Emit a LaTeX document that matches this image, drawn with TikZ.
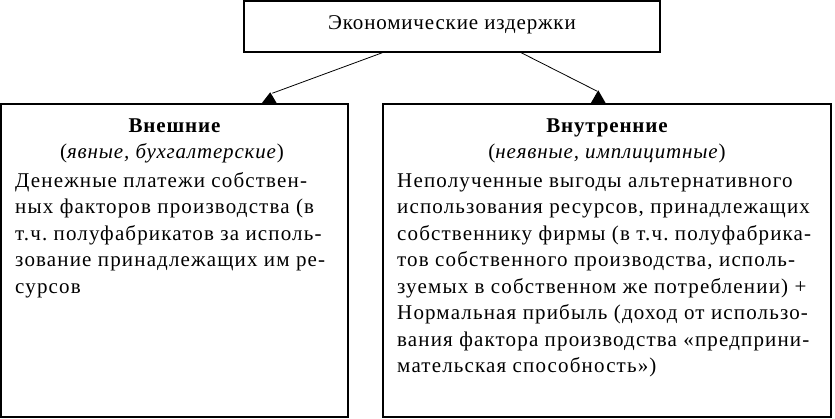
\documentclass[tikz,border=0pt]{standalone}
\usepackage{fontspec}
\setmainfont{Liberation Serif}[LetterSpace=4]
\newfontfamily\bodyfont{Liberation Serif}[LetterSpace=5.5]
\frenchspacing
\begin{document}
\begin{tikzpicture}[x=1pt,y=-1pt,
  box/.style={draw,line width=1.5pt,inner sep=0pt},
  txt/.style={inner sep=0pt,font=\fontsize{21}{25}\selectfont},
  ln/.style={inner sep=0pt,font=\fontsize{21}{25}\bodyfont\frenchspacing,anchor=base west},
  ttl/.style={txt,anchor=base},
  conn/.style={line width=0.8pt},
  tipfill/.style={fill=black}]
\useasboundingbox[fill=white] (0,0) rectangle (835,418);
% boxes
\node[box,minimum width=416pt,minimum height=51pt] (top) at (452,26.5) {};
\node[box,minimum width=347pt,minimum height=313pt] (left) at (174.5,260.5) {};
\node[box,minimum width=448pt,minimum height=313pt] (right) at (607,260.5) {};
% connectors
\path (top.south west) ++(139,0) coordinate (s1);
\path (top.south west) ++(278,0) coordinate (s2);
\path (left.north west) ++(272,-10) coordinate (e1);
\path (right.north west) ++(215,-12) coordinate (e2);
\draw[conn] (s1) -- (e1);
\draw[conn] (s2) -- (e2);
\fill[tipfill] (left.north west) ++(270,-11) -- ++(-8.5,11) -- ++(15,0) -- cycle;
\fill[tipfill] (right.north west) ++(216,-13) -- ++(-7.5,13) -- ++(15,0) -- cycle;
% texts
\node[ttl] (ttop) at (452,29) {Экономические издержки};
\node[ttl] (tl1) at (174.5,132) {\bfseries Внешние};
\node[ttl] (tl2) at (172,158) {(\textit{явные, бухгалтерские})};
\node[ln] (l1) at (15,187) {Денежные платежи собствен-};
\node[ln] (l2) at (15,213.5) {ных факторов производства (в};
\node[ln] (l3) at (15,240) {т.ч. полуфабрикатов за исполь-};
\node[ln] (l4) at (15,266.5) {зование принадлежащих им ре-};
\node[ln] (l5) at (15,293) {сурсов};
\node[ttl] (tr1) at (607,132) {\bfseries Внутренние};
\node[ttl] (tr2) at (607,158) {(\textit{неявные, имплицитные})};
\node[ln] (r1) at (397,187) {Неполученные выгоды альтернативного};
\node[ln] (r2) at (397,213.5) {использования ресурсов, принадлежащих};
\node[ln] (r3) at (397,240) {собственнику фирмы (в т.ч. полуфабрика-};
\node[ln] (r4) at (397,266.5) {тов собственного производства, исполь-};
\node[ln] (r5) at (397,293) {зуемых в собственном же потреблении) +};
\node[ln] (r6) at (397,319.5) {Нормальная прибыль (доход от использо-};
\node[ln] (r7) at (397,346) {вания фактора производства «предприни-};
\node[ln] (r8) at (397,372.5) {мательская способность»)};
\end{tikzpicture}
\end{document}
